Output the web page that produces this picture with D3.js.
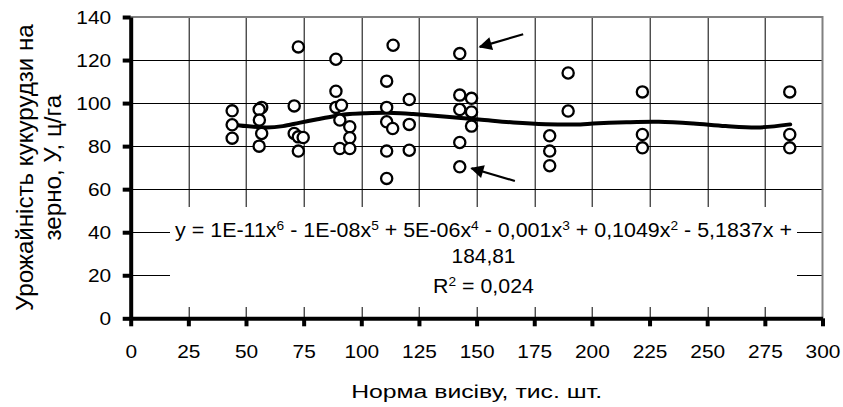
<!DOCTYPE html>
<html>
<head>
<meta charset="utf-8">
<script src="https://cdn.jsdelivr.net/npm/d3@7"></script>
<style>
  body { margin: 0; background: #fff; }
  svg text { font-family: Arial, "Liberation Sans", sans-serif; fill: #000; }
</style>
</head>
<body>
<div id="chart"></div>
<script>
// ---------- data ----------
var normaX = [44, 44, 44,
  56.8, 55.7, 55.8, 56.8, 55.7,
  70.9, 70.9, 72.7, 72.7, 74.8, 72.7,
  89, 89, 89, 91.4, 90.7, 95, 95, 90.7, 95,
  111, 111, 111, 113.6, 111, 111, 113.8,
  120.8, 120.8, 120.8,
  142.7, 142.7, 147.8, 142.7, 147.8, 147.8, 142.7, 142.7,
  181.7, 181.7, 181.7, 189.7, 189.7,
  221.9, 221.9, 221.9,
  285.8, 285.8, 285.8];
var yieldY = [96.4, 89.9, 83.7,
  98.0, 97.0, 92.1, 85.9, 80.0,
  98.7, 85.9, 126.1, 84.3, 84.0, 77.7,
  120.4, 105.5, 98.0, 99.0, 92.1, 89.0, 83.9, 78.9, 78.9,
  110.2, 98.0, 91.3, 88.2, 77.7, 65.0, 126.9,
  101.7, 90.1, 78.1,
  123.0, 103.7, 102.2, 97.0, 95.9, 89.3, 81.7, 70.4,
  84.8, 77.7, 70.9, 114.0, 96.3,
  105.2, 85.4, 79.2,
  105.2, 85.4, 79.2];

// polynomial trend line
var trendX = [44, 50, 59, 66, 73, 81, 88, 95, 102, 111, 117, 122.5, 137, 151, 166, 180, 195, 200.5, 215, 229, 244, 258, 273, 286];
var trendY = [90.2, 89.3, 88.7, 89.3, 90.8, 92.5, 93.9, 94.9, 95.3, 95.5, 95.3, 94.9, 93.6, 92.4, 91.0, 90.2, 90.1, 90.5, 91.1, 91.3, 90.5, 89.3, 88.7, 90.1];

var xTicks = [0, 25, 50, 75, 100, 125, 150, 175, 200, 225, 250, 275, 300];
var yTicks = [0, 20, 40, 60, 80, 100, 120, 140];

// arrows pointing at two points (tail -> tip, in data units)
var arrows = [
  {x1: 170.2, y1: 132.0, x2: 151.4, y2: 126.1},
  {x1: 166.6, y1: 63.8, x2: 147.8, y2: 69.7}
];

var xTitle = "Норма висіву, тис. шт.";
var yTitle = ["Урожайність кукурудзи на", "зерно, У, ц/га"];
var eqParts = [["y = 1E-11x", "6"], [" - 1E-08x", "5"], [" + 5E-06x", "4"], [" - 0,001x", "3"], [" + 0,1049x", "2"], [" - 5,1837x +", null]];
var eqLine2 = "184,81";
var r2Value = " = 0,024";

// ---------- svg ----------
var svgWidth = 843, svgHeight = 407;
var margin = {top: 17, right: 20.5, bottom: 88.7, left: 130.7};
var chartWidth = svgWidth - margin.left - margin.right;
var chartHeight = svgHeight - margin.top - margin.bottom;

var svg = d3.select("#chart").append("svg")
  .attr("width", svgWidth).attr("height", svgHeight);

var chartGroup = svg.append("g")
  .attr("transform", `translate(${margin.left},${margin.top})`);

var xScale = d3.scaleLinear().domain([0, 300]).range([0, chartWidth]);
var yScale = d3.scaleLinear().domain([0, 140]).range([chartHeight, 0]);

// the reference font is wider than Liberation Sans: stretch text horizontally around its anchor
function stretchTo(sel, target, cx, base) {
  sel.each(function () {
    var w = this.getBBox().width;
    var k = target / w;
    d3.select(this).attr("transform", (base || "") + `translate(${cx},0) scale(${k},1) translate(${-cx},0)`);
  });
}

// grid
chartGroup.append("g").selectAll("line")
  .data(xTicks.slice(1, -1))
  .enter().append("line")
  .attr("x1", d => Math.round(xScale(d)) + 0.5).attr("x2", d => Math.round(xScale(d)) + 0.5)
  .attr("y1", 0).attr("y2", chartHeight)
  .attr("stroke", "#000").attr("stroke-width", 1);

chartGroup.append("g").selectAll("line")
  .data(yTicks.slice(1, -1))
  .enter().append("line")
  .attr("y1", d => Math.round(yScale(d)) + 0.5).attr("y2", d => Math.round(yScale(d)) + 0.5)
  .attr("x1", 0).attr("x2", chartWidth)
  .attr("stroke", "#000").attr("stroke-width", 1);

// plot border (top/right)
chartGroup.append("path")
  .attr("d", `M0,${yScale(140)}H${xScale(300)}V${chartHeight}`)
  .attr("fill", "none").attr("stroke", "#808080").attr("stroke-width", 2);

// axes
var xAxis = d3.axisBottom(xScale).tickValues(xTicks).tickSize(8).tickSizeOuter(0);
var yAxis = d3.axisLeft(yScale).tickValues(yTicks).tickSize(8).tickSizeOuter(0);

var gx = chartGroup.append("g")
  .attr("transform", `translate(0, ${chartHeight})`)
  .call(xAxis);
var gy = chartGroup.append("g").call(yAxis);

[gx, gy].forEach(function (g) {
  g.select(".domain").attr("stroke", "#000").attr("stroke-width", 4);
  g.selectAll(".tick line").attr("stroke", "#000").attr("stroke-width", 4);
  g.selectAll(".tick text").attr("font-size", 18.5).attr("fill", "#000")
    .style("font-family", 'Arial, "Liberation Sans", sans-serif');
});
gx.selectAll(".tick text").attr("dy", 0).attr("y", 39.4)
  .each(function () {
    var w = this.getBBox().width;
    d3.select(this).attr("transform", `scale(1.13,1)`);
  });
gy.selectAll(".tick text").attr("x", 0).attr("dy", "0.34em")
  .attr("transform", "translate(-19.5,0) scale(1.13,1)");

// trend line
var line = d3.line()
  .x((d, i) => xScale(trendX[i]))
  .y((d, i) => yScale(trendY[i]))
  .curve(d3.curveCatmullRom);

chartGroup.append("path")
  .datum(trendY)
  .attr("d", line)
  .attr("fill", "none").attr("stroke", "#000").attr("stroke-width", 4)
  .attr("stroke-linecap", "round");

// points
chartGroup.append("g").selectAll("circle")
  .data(normaX)
  .enter().append("circle")
  .attr("cx", (d, i) => xScale(d))
  .attr("cy", (d, i) => yScale(yieldY[i]))
  .attr("r", 5.6)
  .attr("fill", "#fff").attr("stroke", "#000").attr("stroke-width", 2.3);

// arrows
svg.append("defs").append("marker")
  .attr("id", "head").attr("viewBox", "0 0 10 10")
  .attr("refX", 9).attr("refY", 5)
  .attr("markerWidth", 7.5).attr("markerHeight", 6)
  .attr("markerUnits", "strokeWidth")
  .attr("orient", "auto")
  .append("path").attr("d", "M0,0L10,5L0,10Z").attr("fill", "#000");

chartGroup.append("g").selectAll("line")
  .data(arrows)
  .enter().append("line")
  .attr("x1", d => xScale(d.x1)).attr("y1", d => yScale(d.y1))
  .attr("x2", d => xScale(d.x2)).attr("y2", d => yScale(d.y2))
  .attr("stroke", "#000").attr("stroke-width", 2.2)
  .attr("marker-end", "url(#head)");

// trend equation label (white box covers the grid)
var labelCx = 483.5 - margin.left;
chartGroup.append("rect")
  .attr("x", 170 - margin.left).attr("y", 207 - margin.top)
  .attr("width", 627).attr("height", 100)
  .attr("fill", "#fff");

var eq = chartGroup.append("text")
  .attr("x", labelCx).attr("y", 236.7 - margin.top)
  .attr("text-anchor", "middle").attr("font-size", 19.5);
var raised = false;
eqParts.forEach(function (p) {
  eq.append("tspan").attr("dy", raised ? 7 : 0).text(p[0]);
  raised = false;
  if (p[1]) {
    eq.append("tspan").attr("dy", -7).attr("font-size", 12.5).text(p[1]);
    raised = true;
  }
});
stretchTo(eq, 617, labelCx);

var eq2 = chartGroup.append("text")
  .attr("x", labelCx).attr("y", 263.3 - margin.top)
  .attr("text-anchor", "middle").attr("font-size", 19.5)
  .text(eqLine2);
stretchTo(eq2, 64, labelCx);

var r2 = chartGroup.append("text")
  .attr("x", labelCx).attr("y", 293.3 - margin.top)
  .attr("text-anchor", "middle").attr("font-size", 19.5);
r2.append("tspan").text("R");
r2.append("tspan").attr("dy", -7).attr("font-size", 12.5).text("2");
r2.append("tspan").attr("dy", 7).text(r2Value);
stretchTo(r2, 101, labelCx);

// axis titles
var xt = svg.append("text")
  .attr("x", margin.left + chartWidth / 2).attr("y", 398.3)
  .attr("text-anchor", "middle").attr("font-size", 19)
  .text(xTitle);
stretchTo(xt, 251, margin.left + chartWidth / 2);

var yMid = margin.top + chartHeight / 2;
[[yTitle[0], 33, 287], [yTitle[1], 60.5, 146]].forEach(function (t) {
  var txt = svg.append("text")
    .attr("x", 0).attr("y", 0)
    .attr("text-anchor", "middle").attr("font-size", 23)
    .text(t[0]);
  stretchTo(txt, t[2], 0, `translate(${t[1]}, ${yMid}) rotate(-90) `);
});
</script>
</body>
</html>
